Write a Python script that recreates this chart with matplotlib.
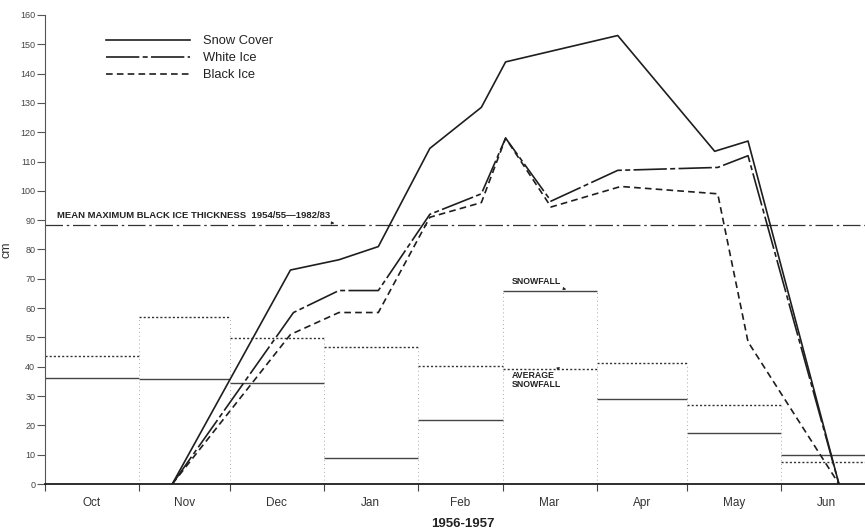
import matplotlib
matplotlib.use('Agg')
import matplotlib.pyplot as plt
import numpy as np

plt.rcParams['font.family'] = ['Liberation Sans', 'DejaVu Sans']

# months of the 1956-1957 season and their lengths (days)
months = ['Oct', 'Nov', 'Dec', 'Jan', 'Feb', 'Mar', 'Apr', 'May', 'Jun']
month_days = [31, 30, 31, 31, 28, 31, 30, 31, 30]

# thickness curves, x = days since 1 Oct
snow_day = [42, 81, 97, 110, 127, 144, 152, 189, 221, 232, 262]
snow_cm = [0, 73, 76.5, 81, 114.5, 128.5, 144, 153, 113.5, 117, 0]

white_day = [42, 82, 97, 110, 127, 144, 152, 167, 189, 222, 232, 262]
white_cm = [0, 58.5, 66, 66, 92, 99, 118, 96.5, 107, 108, 112, 0]

black_day = [42, 81, 97, 110, 127, 144, 152, 167, 190, 222, 232, 262]
black_cm = [0, 51, 58.5, 58.5, 91, 96, 118, 94.5, 101.5, 99, 48.5, 0]

# monthly snowfall and average snowfall (cm)
snowfall = [36.3, 35.8, 34.4, 8.8, 22, 66, 28.9, 17.3, 9.9]
avg_snowfall = [43.8, 56.9, 49.7, 46.9, 40.4, 39.2, 41.4, 27, 7.4]

mean_max_black_ice = 88.4

edges = np.concatenate([[0], np.cumsum(month_days)])
mids = (edges[:-1] + edges[1:]) / 2

fig = plt.figure(figsize=(8.65, 5.3), dpi=100)
ax = fig.add_axes([45 / 865, 46 / 530, 820 / 865, 469 / 530])

ink = '#1e1e1e'

# snowfall bars (steps)
ax.hlines(snowfall, edges[:-1], edges[1:], colors='#444444', linewidth=1.0)
ax.hlines(avg_snowfall, edges[:-1], edges[1:], colors='#333333', linewidth=1.0,
          linestyles=(0, (1.5, 1.5)))
for i in range(1, len(months)):
    top = max(snowfall[i - 1], snowfall[i], avg_snowfall[i - 1], avg_snowfall[i])
    ax.vlines(edges[i], 0, top, colors='#aaaaaa', linewidth=0.7,
              linestyles=(0, (1, 3)))

# mean maximum black ice line
ax.axhline(mean_max_black_ice, color='#333333', linewidth=0.9,
           linestyle=(0, (14, 3, 2, 3)))

# ice curves
ax.plot(snow_day, snow_cm, color=ink, linewidth=1.2, label='Snow Cover')
ax.plot(white_day, white_cm, color=ink, linewidth=1.2,
        linestyle=(0, (20, 2, 3, 2)), label='White Ice')
ax.plot(black_day, black_cm, color=ink, linewidth=1.2,
        linestyle=(0, (4, 2.5)), label='Black Ice')

ax.set_xlim(0, 270.6)
ax.set_ylim(0, 160)

for side in ['top', 'right']:
    ax.spines[side].set_visible(False)
ax.spines['left'].set_color('#555555')
ax.spines['bottom'].set_color(ink)
ax.spines['bottom'].set_linewidth(1.3)

ax.set_yticks(np.arange(0, 161, 10))
ax.tick_params(axis='y', direction='out', length=6, width=0.8,
               labelsize=6.5, labelcolor='#444444', colors='#555555', pad=1)
ax.set_xticks(edges[:-1])
ax.set_xticklabels([])
ax.tick_params(axis='x', direction='out', length=5, width=0.8, colors='#444444')

for m, x in zip(months, mids):
    ax.text(x, -4.5, m, ha='center', va='top', fontsize=8.5, color='#333333')

ax.text(138, -11.5, '1956-1957', ha='center', va='top', fontsize=9.5,
        fontweight='bold', color='#222222')
ax.set_ylabel('cm', fontsize=9, color='#333333')
ax.yaxis.set_label_coords(-33 / 820, 0.5)

ax.annotate('MEAN MAXIMUM BLACK ICE THICKNESS  1954/55\u20141982/83',
            xy=(95.5, mean_max_black_ice + 0.6), xytext=(4, mean_max_black_ice + 1.6),
            fontsize=6.8, fontweight='bold', color='#222222', va='bottom',
            arrowprops=dict(arrowstyle='-|>', color='#222222', lw=0.6,
                            mutation_scale=4, shrinkA=0, shrinkB=0))
ax.annotate('SNOWFALL', xy=(172, 66.4), xytext=(154, 67.5),
            fontsize=6.3, fontweight='bold', color='#222222', va='bottom',
            arrowprops=dict(arrowstyle='-|>', color='#222222', lw=0.6,
                            mutation_scale=4, shrinkA=0, shrinkB=0))
ax.annotate('AVERAGE\nSNOWFALL', xy=(170, 39.8), xytext=(154, 38.5),
            fontsize=6.3, fontweight='bold', color='#222222', va='top',
            linespacing=0.95,
            arrowprops=dict(arrowstyle='-|>', color='#222222', lw=0.6,
                            mutation_scale=4, shrinkA=0, shrinkB=0))

leg = ax.legend(loc='upper left', bbox_to_anchor=(106 / 865, 1 - 35 / 530),
                bbox_transform=fig.transFigure, frameon=False, fontsize=9.3,
                handlelength=6.5, handletextpad=1.0, labelspacing=0.4,
                borderpad=0, borderaxespad=0)
for t in leg.get_texts():
    t.set_color('#222222')

fig.savefig('out.png', dpi=100)
